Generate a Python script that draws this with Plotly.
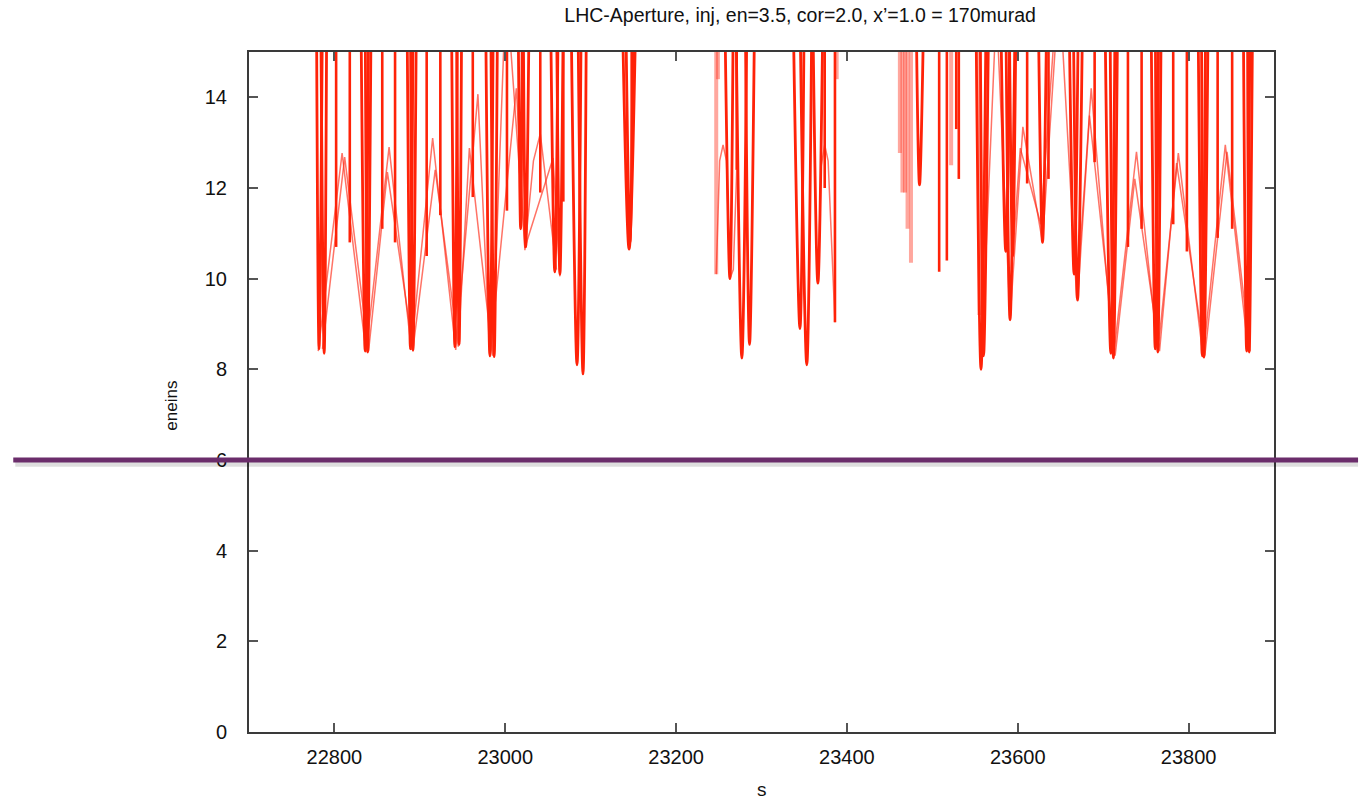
import plotly.graph_objects as go

# ---------------------------------------------------------------- data
# aperture value used for points that run off the top of the plotted range
off_scale = 16.0

# narrow aperture wells: left edge s, s at minimum, minimum value, right edge s
well_left = [22779, 22784, 22831, 22836, 22885, 22889, 22937, 22943, 22977, 22983,
             23015, 23021, 23053, 23060, 23077, 23085, 23137, 23141,
             23257, 23270, 23281, 23337, 23345, 23360,
             23481, 23551, 23556, 23580, 23586, 23590, 23624,
             23660, 23665, 23702, 23708, 23756, 23761, 23811, 23815, 23864, 23869]
well_min_s = [22782, 22788, 22836, 22839, 22889, 22892, 22941, 22946, 22982, 22987,
              23018, 23024, 23058, 23064, 23084, 23091, 23145, 23146,
              23263, 23277, 23286, 23345, 23353, 23366,
              23485, 23557, 23560, 23586, 23591, 23594, 23629,
              23666, 23670, 23709, 23712, 23761, 23764, 23816, 23818, 23868, 23871]
well_min = [8.45, 8.35, 8.40, 8.38, 8.45, 8.42, 8.50, 8.55, 8.30, 8.28,
            11.1, 10.7, 10.15, 10.1, 8.10, 7.90, 10.65, 10.8,
            10.0, 8.25, 8.55, 8.90, 8.10, 9.90,
            12.07, 8.00, 8.30, 10.6, 9.09, 10.5, 10.8,
            10.1, 9.53, 8.35, 8.25, 8.45, 8.38, 8.30, 8.27, 8.40, 8.38]
well_right = [22786, 22791, 22840, 22843, 22892, 22896, 22944, 22949, 22986, 22991,
              23020, 23028, 23062, 23068, 23089, 23095, 23153, 23150,
              23267, 23283, 23292, 23350, 23359, 23372,
              23490, 23563, 23566, 23591, 23597, 23598, 23634,
              23671, 23676, 23714, 23717, 23765, 23768, 23820, 23823, 23872, 23875]

# single elements whose aperture drops from above the range to a minimum
drop_s = [22802, 22818, 22856, 22871, 22908, 22924, 22962, 23002, 23041, 23068,
          23148, 23271, 23374, 23386, 23508, 23517, 23528, 23531, 23611, 23636,
          23690, 23729, 23745, 23782, 23798, 23834, 23851]
drop_min = [10.7, 10.8, 11.1, 10.8, 10.5, 11.4, 11.8, 11.5, 11.9, 11.7,
            11.9, 12.4, 12.0, 9.04, 10.15, 10.4, 13.3, 12.2, 12.1, 12.2,
            12.57, 10.7, 11.1, 11.2, 10.6, 10.9, 11.1]

# faint elements
faint_s = [23247, 23249, 23388, 23462, 23465, 23468, 23471, 23475, 23522, 23555]
faint_min = [10.1, 14.4, 14.4, 12.77, 11.9, 11.9, 11.1, 10.35, 12.5, 9.2]

# beam envelope traces (thin lines between the wells)
env_a_s = [22781, 22809, 22837, 22864, 22890, 22915, 22942, 22968, 22982, 23013,
           23023, 23033, 23041, 23050, 23060]
env_a_y = [8.40, 12.77, 8.38, 12.90, 8.43, 13.10, 8.43, 14.07, 8.27, 14.20,
           10.63, 12.6, 13.20, 11.8, 10.20]

env_b_s = [22786, 22812, 22840, 22862, 22892, 22918, 22945, 22958, 22985, 23000]
env_b_y = [8.45, 12.68, 8.40, 12.35, 8.45, 12.40, 8.50, 12.88, 8.30, 16.0]

env_c_s = [23003, 23023, 23056, 23064]
env_c_y = [16.0, 10.68, 12.66, 10.05]

env_d_s = [23247, 23251, 23255, 23259, 23263, 23267, 23271]
env_d_y = [10.1, 12.6, 12.95, 12.6, 10.0, 10.2, 12.4]

env_e_s = [23366, 23370, 23374, 23378, 23386]
env_e_y = [9.9, 12.5, 12.95, 12.6, 9.04]

env_f_s = [23557, 23575, 23591, 23606, 23629, 23647]
env_f_y = [8.0, 16.0, 9.1, 13.35, 10.8, 16.0]

env_g_s = [23594, 23603, 23627, 23645]
env_g_y = [10.5, 12.88, 11.2, 16.0]

env_h_s = [23650, 23669, 23686, 23712, 23739, 23764, 23788, 23817, 23843, 23870]
env_h_y = [16.0, 9.57, 14.20, 8.25, 12.80, 8.38, 12.77, 8.27, 12.95, 8.38]

env_i_s = [23670, 23684, 23714, 23737, 23766, 23786, 23819, 23845, 23872]
env_i_y = [9.50, 13.60, 8.30, 12.20, 8.40, 12.55, 8.30, 12.80, 8.40]

envelopes = [(env_a_s, env_a_y), (env_b_s, env_b_y), (env_c_s, env_c_y),
             (env_d_s, env_d_y), (env_e_s, env_e_y), (env_f_s, env_f_y),
             (env_g_s, env_g_y), (env_h_s, env_h_y), (env_i_s, env_i_y)]

x_ticks = [22800, 23000, 23200, 23400, 23600, 23800]
y_ticks = [0, 2, 4, 6, 8, 10, 12, 14]

# ---------------------------------------------------------------- traces
RED = "rgb(255,34,8)"
FAINT = "rgba(255,60,40,0.45)"
THIN = "rgba(255,40,20,0.65)"

fig = go.Figure()

fx, fy = [], []
for s, v in zip(faint_s, faint_min):
    fx += [s, s, None]
    fy += [off_scale, v, None]
fig.add_trace(go.Scatter(x=fx, y=fy, mode="lines",
                         line=dict(color=FAINT, width=4), hoverinfo="skip"))

ex, ey = [], []
for s_list, y_list in envelopes:
    ex += list(s_list) + [None]
    ey += list(y_list) + [None]
fig.add_trace(go.Scatter(x=ex, y=ey, mode="lines",
                         line=dict(color=THIN, width=1.5), hoverinfo="skip"))

# each well is its own smoothed trace so the bottom rounds off
for l, m, v, r in zip(well_left, well_min_s, well_min, well_right):
    fig.add_trace(go.Scatter(x=[l, m, r], y=[off_scale, v, off_scale], mode="lines",
                             line=dict(color=RED, width=2.8, shape="spline", smoothing=1.0),
                             hoverinfo="skip"))

dx, dy = [], []
for s, v in zip(drop_s, drop_min):
    dx += [s, s, None]
    dy += [off_scale, v, None]
fig.add_trace(go.Scatter(x=dx, y=dy, mode="lines",
                         line=dict(color=RED, width=2.6), hoverinfo="skip"))

# ---------------------------------------------------------------- threshold line at 6 sigma
threshold = 6.0
fig.add_shape(type="line", xref="paper", yref="y", x0=-0.228, x1=1.082,
              y0=threshold - 0.07, y1=threshold - 0.07,
              line=dict(color="rgba(0,0,0,0.13)", width=7), layer="above")
fig.add_shape(type="line", xref="paper", yref="y", x0=-0.230, x1=1.082,
              y0=threshold, y1=threshold,
              line=dict(color="#6B2D6B", width=5), layer="above")

# ---------------------------------------------------------------- layout
FONT = "Liberation Sans, Arial, sans-serif"
axis_common = dict(
    showline=True, linecolor="#3a3a3a", linewidth=2, mirror="ticks",
    ticks="inside", ticklen=9, tickwidth=1.5, tickcolor="#555",
    showgrid=False, zeroline=False,
    tickfont=dict(family=FONT, size=20, color="#111"),
)

fig.update_layout(
    width=1363, height=801,
    margin=dict(l=249, r=89, t=52, b=69),
    paper_bgcolor="white", plot_bgcolor="white",
    showlegend=False,
    title=dict(text="LHC-Aperture, inj, en=3.5, cor=2.0, x\u2019=1.0 = 170murad",
               x=0.587, xanchor="center", y=0.981, yanchor="middle",
               font=dict(family=FONT, size=19.5, color="#111")),
    xaxis=dict(range=[22700, 23900], tickvals=x_ticks, tickformat="d",
               ticklabelstandoff=6, **axis_common),
    yaxis=dict(range=[0, 15], tickvals=y_ticks,
               ticklabelstandoff=16, **axis_common),
    annotations=[
        dict(text="eneins", textangle=-90, xref="paper", yref="paper",
             x=-0.076, y=0.48, xanchor="center", yanchor="middle", showarrow=False,
             font=dict(family=FONT, size=17, color="#111")),
        dict(text="s", xref="paper", yref="paper", x=0.5005, y=-0.085,
             xanchor="center", yanchor="middle", showarrow=False,
             font=dict(family=FONT, size=19, color="#111")),
    ],
)

fig.write_html("out.html")
